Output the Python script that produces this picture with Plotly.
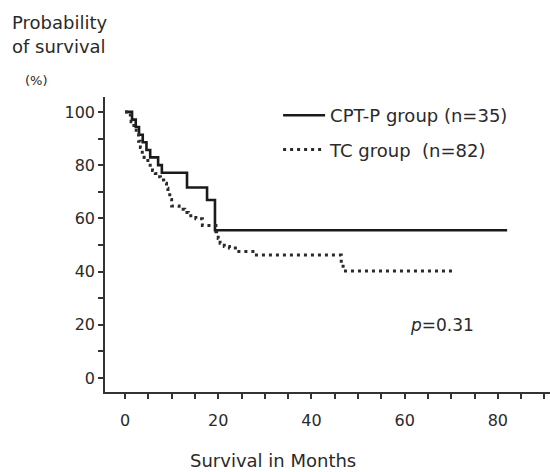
import plotly.graph_objects as go

# CPT-P group (n=35): Kaplan-Meier step points (months, % surviving)
cpt_months = [0, 1.5, 2.3, 3.0, 3.8, 4.6, 5.4, 7.1, 7.9, 13.3, 17.6, 19.3, 82]
cpt_surv = [100, 97.1, 94.3, 91.4, 88.6, 85.7, 82.9, 80.0, 77.1, 71.6, 66.9, 55.5, 55.5]

# TC group (n=82)
tc_months = [0, 0.7, 1.3, 1.9, 2.4, 2.9, 3.3, 3.7, 4.1, 4.9, 5.4, 5.9, 6.5, 7.0, 7.6,
             8.3, 8.9, 9.2, 9.6, 10.0, 11.6, 12.8, 13.6, 15.2, 16.6, 19.5, 20.0, 20.4,
             21.3, 22.4, 24.0, 27.8, 46.4, 46.8, 71]
tc_surv = [100, 98.8, 96.3, 93.9, 91.5, 89.0, 86.6, 84.1, 82.9, 81.7, 79.3, 78.0, 76.8, 75.6, 74.4,
           73.2, 71.3, 69.5, 67.1, 64.6, 63.4, 62.2, 61.0, 59.8, 57.3, 54.9, 52.4, 50.6,
           49.4, 48.8, 47.5, 46.2, 43.0, 40.2, 40.2]

series_names = ["CPT-P group (n=35)", "TC group\u00a0\u00a0(n=82)"]
x_ticks = list(range(0, 95, 5))
x_ticktext = [str(v) if v % 20 == 0 and v <= 80 else "" for v in x_ticks]
y_ticks = list(range(0, 110, 10))
y_ticktext = [str(v) if v % 20 == 0 else "" for v in y_ticks]

FONT = "DejaVu Sans"
TXT = "#2a2a2a"

fig = go.Figure()
fig.add_trace(go.Scatter(x=cpt_months, y=cpt_surv, mode="lines", line_shape="hv",
                         line=dict(color="#1a1a1a", width=2.6),
                         name=series_names[0], legendgroup="a"))
fig.add_trace(go.Scatter(x=tc_months, y=tc_surv, mode="lines", line_shape="hv",
                         line=dict(color="#2a2a2a", width=3, dash="3px,4px"),
                         name=series_names[1], legendgroup="b"))

fig.update_layout(
    width=550, height=472,
    margin=dict(l=105, r=0, t=97, b=80),
    paper_bgcolor="white", plot_bgcolor="white",
    font=dict(family=FONT, size=16, color=TXT),
    showlegend=True,
    legend=dict(x=0.389, y=1.0, xanchor="left", yanchor="top",
                font=dict(family=FONT, size=18, color=TXT),
                bgcolor="rgba(0,0,0,0)", tracegroupgap=8, itemwidth=42),
    xaxis=dict(range=[-4.3, 91.2], showgrid=False, zeroline=False,
               showline=True, linecolor="#333", linewidth=1.5,
               tickmode="array", tickvals=x_ticks, ticktext=x_ticktext,
               ticks="outside", ticklen=5, tickcolor="#333", tickwidth=1.5,
               ticklabelstandoff=8,
               tickfont=dict(family=FONT, size=16, color=TXT)),
    yaxis=dict(range=[-5.3, 105.6], showgrid=False, zeroline=False,
               showline=True, linecolor="#333", linewidth=1.5,
               tickmode="array", tickvals=y_ticks, ticktext=y_ticktext,
               ticks="outside", ticklen=5, tickcolor="#333", tickwidth=1.5,
               tickfont=dict(family=FONT, size=16, color=TXT)),
)

def px_x(px):
    return (px - 105) / 445

def px_y(py):
    return (392 - py) / 295

fig.add_annotation(text="Probability", xref="paper", yref="paper", x=px_x(10), y=px_y(22),
                   xanchor="left", yanchor="middle", showarrow=False,
                   font=dict(family=FONT, size=18, color=TXT))
fig.add_annotation(text="of survival", xref="paper", yref="paper", x=px_x(10), y=px_y(46),
                   xanchor="left", yanchor="middle", showarrow=False,
                   font=dict(family=FONT, size=18, color=TXT))
fig.add_annotation(text="(%)", xref="paper", yref="paper", x=px_x(23), y=px_y(81),
                   xanchor="left", yanchor="middle", showarrow=False,
                   font=dict(family=FONT, size=13, color=TXT))
fig.add_annotation(text="Survival in Months", xref="paper", yref="paper", x=px_x(273), y=px_y(460),
                   xanchor="center", yanchor="middle", showarrow=False,
                   font=dict(family=FONT, size=18, color=TXT))
fig.add_annotation(text="<i>p</i>=0.31", x=68, y=20, xanchor="center", yanchor="middle",
                   showarrow=False, font=dict(family=FONT, size=17, color=TXT))

fig.write_html("out.html", config={"displayModeBar": False},
               post_script="document.body.style.margin='0';document.body.style.overflow='hidden';")
